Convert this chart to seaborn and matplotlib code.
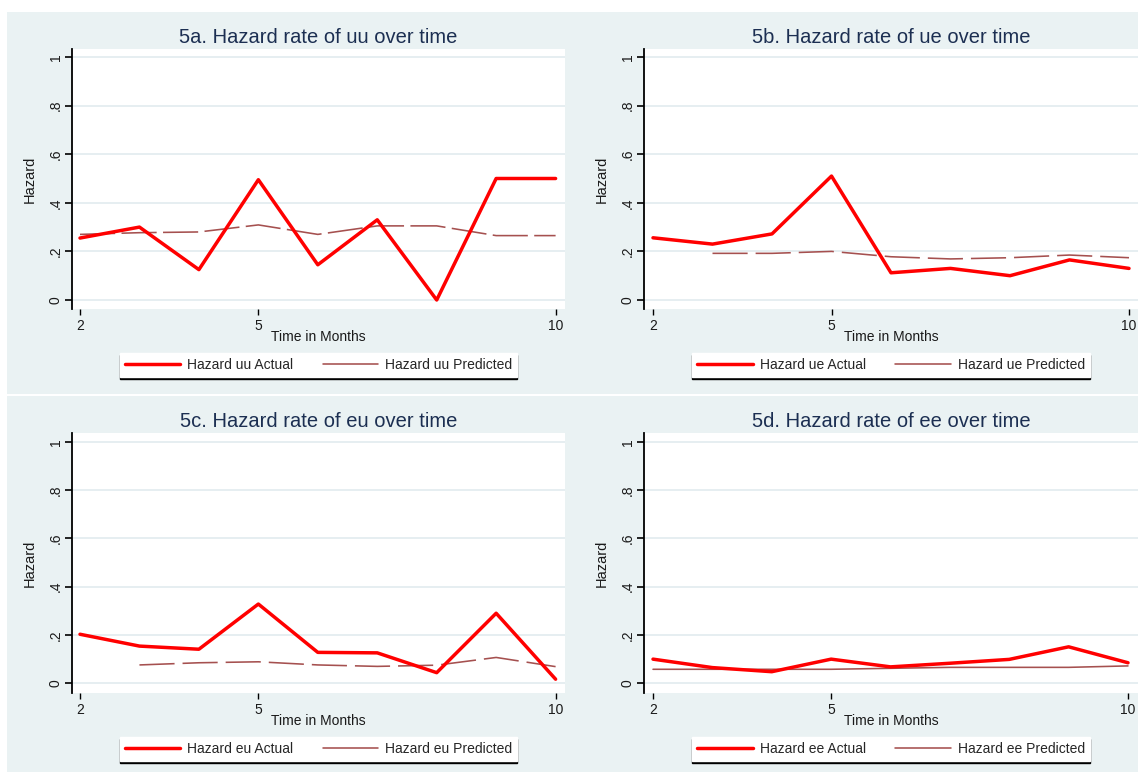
import numpy as np
import pandas as pd
import matplotlib
matplotlib.use("Agg")
import matplotlib.pyplot as plt
from matplotlib.patches import Rectangle
from matplotlib.lines import Line2D
import seaborn as sns

# ---- data -------------------------------------------------------------
months = [2, 3, 4, 5, 6, 7, 8, 9, 10]

uu_actual = [0.255, 0.300, 0.125, 0.495, 0.145, 0.330, 0.000, 0.500, 0.500]
uu_pred = [0.270, 0.277, 0.280, 0.309, 0.270, 0.305, 0.305, 0.265, 0.265]

ue_actual = [0.256, 0.230, 0.272, 0.510, 0.112, 0.130, 0.100, 0.165, 0.130]
ue_pred = [np.nan, 0.192, 0.192, 0.200, 0.178, 0.169, 0.174, 0.185, 0.174]

eu_actual = [0.203, 0.154, 0.141, 0.328, 0.128, 0.126, 0.044, 0.290, 0.017]
eu_pred = [np.nan, 0.076, 0.085, 0.089, 0.076, 0.070, 0.075, 0.107, 0.069]

ee_actual = [0.100, 0.065, 0.048, 0.100, 0.068, 0.083, 0.099, 0.151, 0.085]
ee_pred = [0.058, 0.058, 0.058, 0.058, 0.062, 0.066, 0.066, 0.066, 0.072]

titles = ["5a. Hazard rate of uu over time", "5b. Hazard rate of ue over time",
          "5c. Hazard rate of eu over time", "5d. Hazard rate of ee over time"]
codes = ["uu", "ue", "eu", "ee"]
actual_series = [uu_actual, ue_actual, eu_actual, ee_actual]
pred_series = [uu_pred, ue_pred, eu_pred, ee_pred]

y_ticks = [0, 0.2, 0.4, 0.6, 0.8, 1.0]
y_ticklabels = ["0", ".2", ".4", ".6", ".8", "1"]
x_ticks = [2, 5, 10]
x_ticklabels = ["2", "5", "10"]

# ---- style ------------------------------------------------------------
sns.set_theme(style="white")
plt.rcParams["font.family"] = ["Liberation Sans", "DejaVu Sans"]

BG = "#EAF2F3"
GRID = "#E4EDF0"
ACTUAL_COLOR = "#FF0000"
PRED_COLOR = "#A5504F"
TITLE_COLOR = "#1C2F52"
pred_styles = [(0, (22, 4)), (0, (22, 5)), (0, (22, 5)), "-"]

W, H = 1138, 772
fig = plt.figure(figsize=(W / 100, H / 100), dpi=100)
fig.patch.set_facecolor("white")


def fig_rect(left, top, right, bottom):
    return [left / W, 1 - bottom / H, (right - left) / W, (bottom - top) / H]


# panel backgrounds (top and bottom rows)
for top, bottom in [(12, 394), (395.5, 772)]:
    fig.add_artist(Rectangle((7 / W, 1 - bottom / H), (W - 7) / W, (bottom - top) / H,
                             transform=fig.transFigure, facecolor=BG,
                             edgecolor="none", zorder=-10))

# plot-area pixel boxes: left, top, right, bottom, and pixel positions of x=2, x=10, y=0, y=1
boxes = [
    (72, 49, 565, 309, 80.0, 555.6, 300.0, 57.0),
    (644, 49, 1138, 309, 653.0, 1129.0, 300.0, 57.0),
    (72, 433, 565, 693, 80.0, 555.6, 683.3, 441.7),
    (644, 433, 1138, 693, 653.0, 1128.0, 683.3, 441.7),
]

for i in range(4):
    l, t, r, b, px2, px10, py0, py1 = boxes[i]
    ax = fig.add_axes(fig_rect(l, t, r, b))
    ax.set_facecolor("white")

    df = pd.DataFrame({"month": months,
                       "actual": actual_series[i],
                       "pred": pred_series[i]})

    sns.lineplot(data=df, x="month", y="pred", ax=ax, color=PRED_COLOR,
                 lw=1.15, linestyle=pred_styles[i], legend=False)
    sns.lineplot(data=df, x="month", y="actual", ax=ax, color=ACTUAL_COLOR,
                 lw=2.5, legend=False)

    # axis limits from the pixel mapping of the frame
    sx = (px10 - px2) / 8.0
    ax.set_xlim(2 - (px2 - l) / sx, 10 + (r - px10) / sx)
    sy = py0 - py1
    ax.set_ylim(-(b - py0) / sy, 1 + (py1 - t) / sy)

    ax.set_yticks(y_ticks)
    ax.set_yticklabels(y_ticklabels, rotation=90, va="center")
    ax.set_xticks(x_ticks)
    ax.set_xticklabels(x_ticklabels)
    ax.tick_params(axis="y", left=True, direction="out", length=5, width=1.2,
                   color="black", pad=1.5, labelsize=10, labelcolor="#1a1a1a")
    ax.tick_params(axis="x", bottom=True, direction="out", length=4, width=1.0,
                   color="black", pad=3, labelsize=10, labelcolor="#1a1a1a")

    for side in ["top", "right", "bottom"]:
        ax.spines[side].set_visible(False)
    ax.spines["left"].set_color("black")
    ax.spines["left"].set_linewidth(1.3)

    ax.grid(axis="y", color=GRID, lw=1.3)
    ax.grid(axis="x", visible=False)
    ax.set_axisbelow(True)

    ax.set_title(titles[i], fontsize=14.5, color=TITLE_COLOR, pad=4)

    ax.set_ylabel("Hazard", fontsize=10.5, color="#1a1a1a")
    ax.yaxis.label.set_va("center")
    ax.yaxis.set_label_coords((30 - 72) / (r - l), 0.5)

    ax.set_xlabel("Time in Months", fontsize=10, color="#1a1a1a")
    ax.xaxis.label.set_va("center")
    ax.xaxis.set_label_coords(0.5, -(337 - 309) / (b - t))

    handles = [Line2D([], [], color=ACTUAL_COLOR, lw=2.5),
               Line2D([], [], color=PRED_COLOR, lw=1.15)]
    labels = [f"Hazard {codes[i]} Actual", f"Hazard {codes[i]} Predicted"]
    ax.legend(handles, labels, loc="center", bbox_to_anchor=(0.5, -(365 - 309) / (b - t)),
              ncol=2, frameon=True, fancybox=False, facecolor="white",
              edgecolor="white", framealpha=1,
              shadow={"ox": 0, "oy": -1.5, "facecolor": "black",
                      "edgecolor": "black", "alpha": 1},
              fontsize=10, handlelength=4, handletextpad=0.5,
              columnspacing=2.1, borderpad=0.38)

fig.savefig("out.png", dpi=100, facecolor=fig.get_facecolor())
